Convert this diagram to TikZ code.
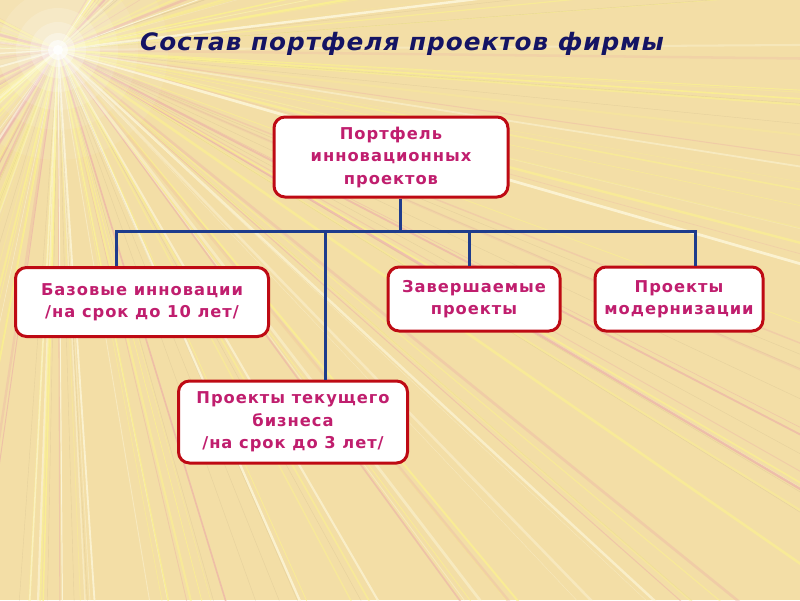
\documentclass[tikz,border=0pt]{standalone}
\usepackage{fontspec}
\setmainfont{DejaVu Sans}
\newfontfamily\boxfont[LetterSpace=6]{DejaVu Sans}
\newfontfamily\titlefont[LetterSpace=4]{DejaVu Sans}
\definecolor{bgc}{RGB}{243,222,166}
\definecolor{rayY}{RGB}{252,244,140}
\definecolor{rayP}{RGB}{236,178,168}
\definecolor{rayW}{RGB}{255,252,230}
\definecolor{rayG}{RGB}{190,170,130}
\definecolor{titlec}{RGB}{20,20,100}
\definecolor{boxtxt}{RGB}{192,30,110}
\definecolor{boxbd}{RGB}{190,10,20}
\definecolor{linec}{RGB}{30,60,140}
\tikzset{
  boxnode/.style={draw=boxbd, line width=3pt, fill=white, rounded corners=11pt,
    align=center, font=\boxfont\bfseries\fontsize{16.3}{22.5}\selectfont, text=boxtxt, inner sep=2pt},
  conn/.style={draw=linec, line width=3pt}
}
\begin{document}
\begin{tikzpicture}[x=1pt,y=-1pt]
\useasboundingbox (0,0) rectangle (800,600);
\fill[bgc] (0,0) rectangle (800,600);
% sunburst rays
\begin{scope}
\clip (0,0) rectangle (800,600);
\pgfmathsetseed{11}
\foreach \i in {1,...,240}{
  \pgfmathsetmacro\ang{-60+rnd*270}
  \pgfmathsetmacro\lw{0.4+rnd*2.4}
  \pgfmathsetmacro\op{0.25+rnd*0.5}
  \pgfmathtruncatemacro\k{mod(\i,5)}
  \ifcase\k
    \draw[rayY, line width=\lw pt, opacity=\op] (58,50) -- ++(\ang:1100);
  \or
    \draw[rayP, line width=\lw pt, opacity=\op] (58,50) -- ++(\ang:1100);
  \or
    \draw[rayW, line width=\lw pt, opacity=\op] (58,50) -- ++(\ang:1100);
  \or
    \draw[rayY, line width=\lw pt, opacity=\op] (58,50) -- ++(\ang:1100);
  \else
    \draw[rayG, line width=0.4pt, opacity=0.25] (58,50) -- ++(\ang:1100);
  \fi
}
\foreach \r/\o in {110/0.07,80/0.09,60/0.12,42/0.16,28/0.22,17/0.35,10/0.6,5/0.9}{
  \fill[white, opacity=\o] (58,50) circle (\r);
}
\end{scope}
% title
\node (title) at (402,44) {\scalebox{1.03}[1]{\titlefont\bfseries\itshape\fontsize{24}{26}\selectfont\color{titlec}Состав портфеля проектов фирмы}};
% boxes
\node[boxnode, minimum width=234pt, minimum height=80pt] (top) at (391,157) {Портфель\\инновационных\\проектов};
\node[boxnode, minimum width=253pt, minimum height=69pt] (base) at (142,302) {Базовые инновации\\/на срок до 10 лет/};
\node[boxnode, minimum width=172pt, minimum height=64pt] (fin) at (474,299) {Завершаемые\\проекты};
\node[boxnode, minimum width=168pt, minimum height=64pt] (mod) at (679,299) {Проекты\\модернизации};
\node[boxnode, minimum width=229pt, minimum height=82pt] (cur) at (293,422) {Проекты текущего\\бизнеса\\/на срок до 3 лет/};
% connectors
\coordinate (bus) at (400,231);
\coordinate (busL) at (116,231);
\coordinate (busC) at (325,231);
\coordinate (busF) at (469,231);
\coordinate (busR) at (695,231);
\draw[conn] (top.south -| bus) -- (bus);
\draw[conn] (busL |- base.north) -- (busL) -- (busR) -- (busR |- mod.north);
\draw[conn] (busC) -- (busC |- cur.north);
\draw[conn] (busF) -- (busF |- fin.north);
\end{tikzpicture}
\end{document}
